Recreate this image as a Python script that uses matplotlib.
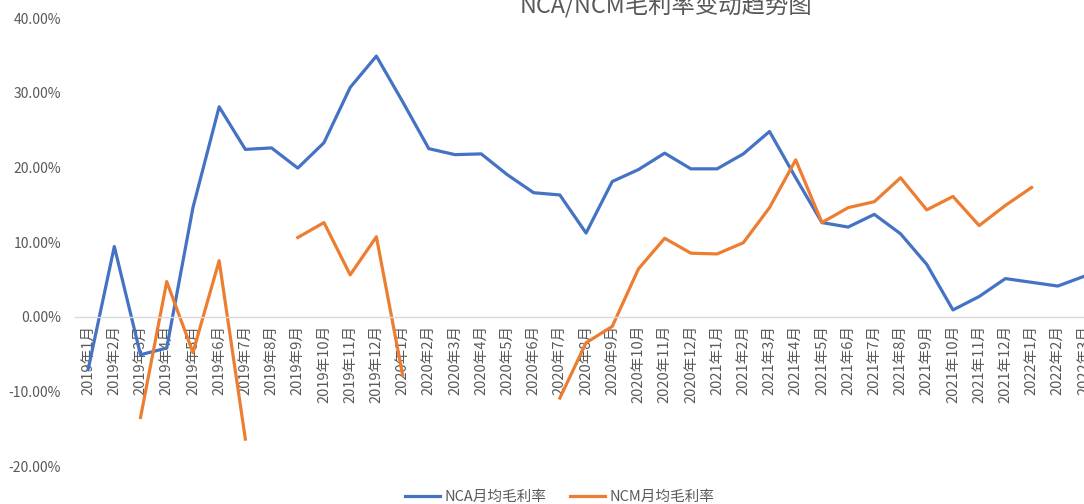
import matplotlib
matplotlib.use("Agg")
import matplotlib.pyplot as plt
import matplotlib.ticker as mticker
import numpy as np

plt.rcParams['font.family'] = ['Noto Sans CJK SC', 'DejaVu Sans']

# month labels 2019年1月 .. 2022年3月
months = []
for yr in range(2019, 2023):
    for m in range(1, 13):
        months.append(f"{yr}年{m}月")
months = months[:39]

nan = np.nan
# NCA monthly average gross margin (%)
nca = [-7.1, 9.4, -5.1, -4.2, 14.6, 28.1, 22.4, 22.6, 19.9, 23.3,
       30.7, 34.9, 28.8, 22.5, 21.7, 21.8, 19.0, 16.6, 16.3, 11.2,
       18.1, 19.7, 21.9, 19.8, 19.8, 21.8, 24.8, 18.6, 12.6, 12.0,
       13.7, 11.1, 7.0, 0.9, 2.7, 5.1, 4.6, 4.1, 5.4]
# NCM monthly average gross margin (%)
ncm = [nan, nan, -13.5, 4.7, -4.8, 7.5, -16.4, nan, 10.6, 12.6,
       5.6, 10.7, -7.8, nan, nan, nan, nan, nan, -10.9, -3.5,
       -1.3, 6.4, 10.5, 8.5, 8.4, 9.9, 14.6, 21.0, 12.6, 14.6,
       15.4, 18.6, 14.3, 16.1, 12.2, 14.9, 17.3, nan, nan]

W, H = 1084, 504
fig = plt.figure(figsize=(W / 100, H / 100), dpi=100)
ax = fig.add_axes([75 / W, (H - 466) / H, 1 - 75 / W, (466 - 18) / H])

x = np.arange(len(months))
ax.plot(x, nca, color='#4472C4', lw=2.3, label='NCA月均毛利率')
ax.plot(x, ncm, color='#ED7D31', lw=2.3, label='NCM月均毛利率')

ax.set_xlim(-0.5, 38.0)
ax.set_ylim(-20, 40)

for s in ['top', 'right', 'left']:
    ax.spines[s].set_visible(False)
ax.spines['bottom'].set_position(('data', 0))
ax.spines['bottom'].set_color('#D9D9D9')
ax.spines['bottom'].set_linewidth(1.0)

ax.set_yticks([-20, -10, 0, 10, 20, 30, 40])
ax.yaxis.set_major_formatter(mticker.FuncFormatter(lambda v, p: f"{v:.2f}%"))
ax.set_xticks(x)
ax.set_xticklabels(months)
ax.tick_params(axis='x', length=0, pad=6, labelsize=10.5, labelcolor='#595959',
               labelrotation=90)
ax.tick_params(axis='y', length=0, pad=10, labelsize=10, labelcolor='#595959')

fig.text(666 / W, 1 - 14 / H, 'NCA/NCM毛利率变动趋势图', ha='center', va='baseline',
         fontsize=16.8, color='#595959')

fig.legend(loc='center', bbox_to_anchor=(559.5 / W, 1 - 497 / H), ncol=2,
           frameon=False, fontsize=10.5, handlelength=2.4, handletextpad=0.3,
           columnspacing=1.6, labelcolor='#595959')

fig.savefig('out.png', dpi=100)
